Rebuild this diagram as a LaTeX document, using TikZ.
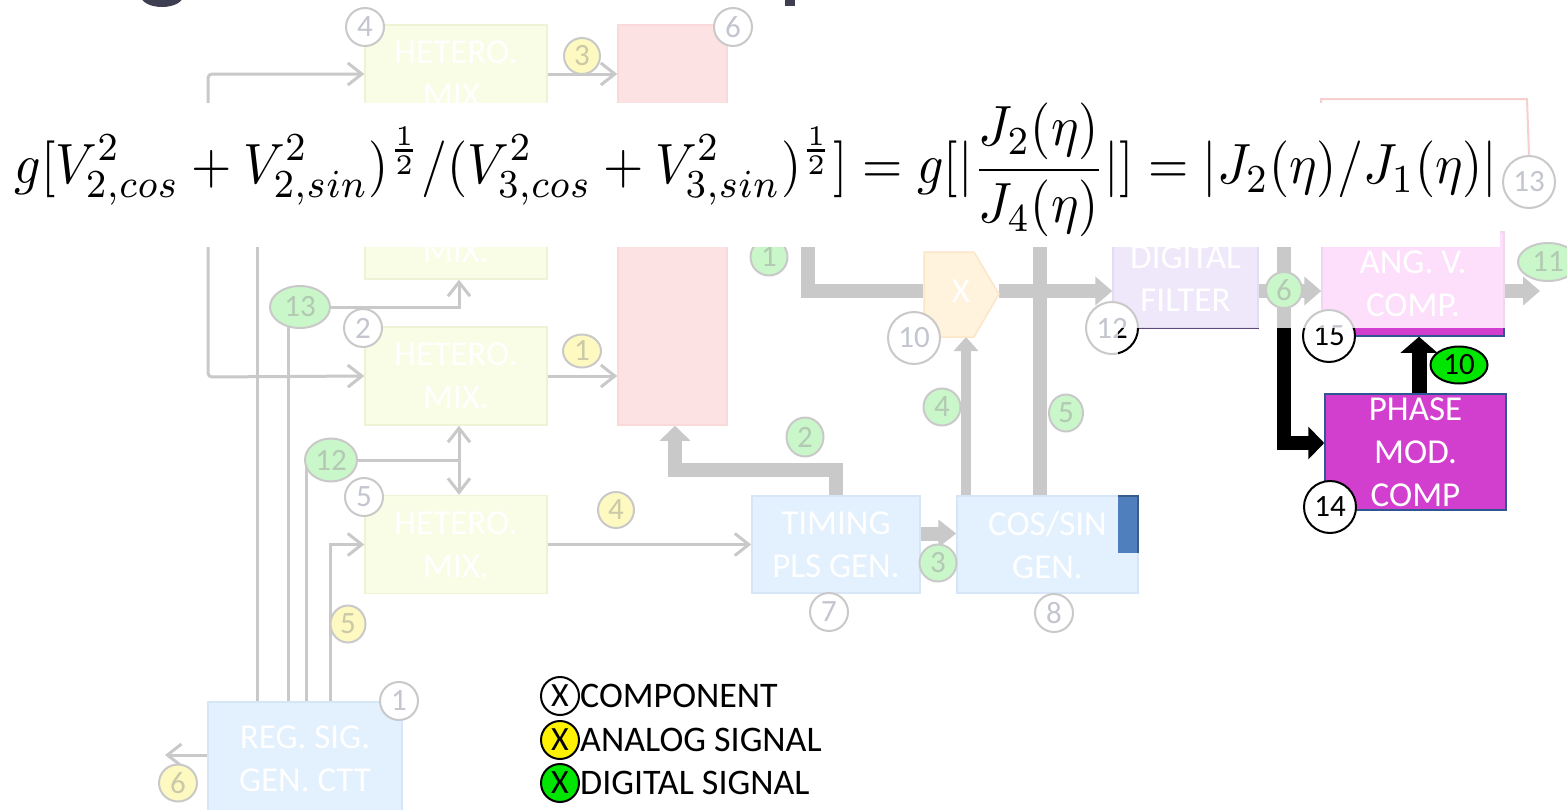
\documentclass[tikz,border=0pt]{standalone}
\usepackage{fontspec}
\setmainfont{Carlito}
\usepackage{graphicx}
\usetikzlibrary{arrows.meta,calc,shapes.geometric}
\pgfdeclarelayer{bg}
\pgfdeclarelayer{fg}
\pgfsetlayers{bg,main,fg}
\definecolor{lg}{HTML}{C9C9C9}
\definecolor{numg}{HTML}{C3C6CF}
\definecolor{hmixf}{HTML}{F9FDE6}
\definecolor{hmixb}{HTML}{EDF4D6}
\definecolor{pinkf}{HTML}{FDE2E3}
\definecolor{pinkb}{HTML}{F9D9DA}
\definecolor{bluef}{HTML}{E3F0FD}
\definecolor{blueb}{HTML}{D6E6F7}
\definecolor{filtf}{HTML}{EFE8FA}
\definecolor{filtb}{HTML}{E4DCF0}
\definecolor{angf}{HTML}{FDDEFB}
\definecolor{angb}{HTML}{F1D6F0}
\definecolor{xf}{HTML}{FFF3DE}
\definecolor{xb}{HTML}{FCE6C8}
\definecolor{gfad}{HTML}{C9F7C9}
\definecolor{gtxt}{HTML}{B3C9B3}
\definecolor{yfad}{HTML}{FDF9C0}
\definecolor{ytxt}{HTML}{CBC9A8}
\definecolor{mag}{HTML}{D23FCF}
\definecolor{dkb}{HTML}{2F5592}
\definecolor{cbar}{HTML}{4F7FBC}
\definecolor{cbarb}{HTML}{385D8A}
\definecolor{dfb}{HTML}{5E4680}
\definecolor{dfu}{HTML}{8064A2}
\definecolor{brgreen}{HTML}{00E600}
\definecolor{pline}{HTML}{F6CFCF}
\definecolor{ttl}{HTML}{3E3E52}
\begin{document}
\begin{tikzpicture}[x=1pt,y=-1pt,
  ln/.style={draw=lg,line width=3pt},
  ta/.style={ln,-{Straight Barb[length=14pt,width=22pt]}},
  tab/.style={ln,{Straight Barb[length=14pt,width=22pt]}-{Straight Barb[length=14pt,width=22pt]}},
  thk/.style={draw=lg,line width=14pt},
  tha/.style={thk,-{Triangle[length=17pt,width=28pt]}},
  box/.style={rectangle,minimum width=182pt,minimum height=98pt,inner sep=0pt,line width=1.5pt,align=center,text=white,font=\fontsize{35}{43}\selectfont},
  hmix/.style={box,draw=hmixb,fill=hmixf},
  bbox/.style={box,draw=blueb,fill=bluef},
  num/.style={circle,draw=lg,line width=2pt,fill=white,minimum size=38pt,inner sep=0pt,text=numg,font=\fontsize{31}{31}\selectfont},
  bnum/.style={num,minimum size=52pt},
  gnum/.style={ellipse,draw=lg,line width=2pt,fill=gfad,inner sep=0pt,text=gtxt,font=\fontsize{31}{31}\selectfont,minimum width=37pt,minimum height=37pt},
  ynum/.style={gnum,fill=yfad,text=ytxt},
  lgd/.style={circle,draw=black,line width=2pt,minimum size=38pt,inner sep=0pt,font=\fontsize{34}{34}\selectfont},
  lgt/.style={anchor=west,inner sep=0pt,font=\fontsize{36}{36}\selectfont},
]
\useasboundingbox (0,0) rectangle (1567,809);

% title fragments
\fill[ttl] (162,-4) ellipse (21 and 11);
\fill[ttl] (785,0) rectangle (795,6);

% ---------- faded boxes ----------
\node[hmix] (b1) at (456,74) {HETERO.\\MIX.};
\node[hmix] (bh) at (456,230) {HETERO.\\MIX.};
\node[hmix] (b2) at (456,376) {HETERO.\\MIX.};
\node[hmix] (b3) at (456,544.5) {HETERO.\\MIX.};
\node[box,draw=pinkb,fill=pinkf,minimum width=109pt,minimum height=400pt] (pk) at (672.5,225) {};
\node[bbox,minimum width=168pt,minimum height=97pt] (tm) at (836,544.5) {TIMING\\PLS GEN.};
\node[bbox,minimum width=181pt,minimum height=97pt] (cs) at (1047.5,544.5) {COS/SIN\\GEN.};
\node[bbox,minimum width=194pt,minimum height=114pt] (rg) at (305,759) {REG. SIG.\\GEN. CTT};
\node[box,draw=filtb,fill=filtf,minimum width=145pt] (fl) at (1185.5,279) {DIGITAL\\FILTER};
\node[box,draw=angb,fill=angf,minimum height=104pt] (av) at (1413,284) {ANG. V.\\COMP.};
\filldraw[fill=xf,draw=xb,line width=1.5pt] (924,252) -- (974,252) -- (999,294) -- (974,337) -- (924,337) -- cycle;
\node[inner sep=0pt,minimum width=75pt,minimum height=85pt,text=white,font=\fontsize{35}{35}\selectfont] (xh) at (961,291) {X};

% ---------- faded number labels ----------
\node[num] (n4) at (365,27) {4};
\node[num] (n6) at (733,27) {6};
\node[num] (n2) at (363,328) {2};
\node[num] (n5) at (364,497) {5};
\node[num] (n7) at (829,612) {7};
\node[num] (n8) at (1054,613) {8};
\node[num] (n1) at (399,701) {1};
\node[bnum] (n10) at (914,338) {10};
\node[bnum] (n12) at (1112,328) {12};
\node[bnum] (n15) at (1329,336) {15};
\node[bnum] (n13) at (1529,182) {13};
\node[gnum,minimum width=60pt,minimum height=42pt] (g13) at (300,307) {13};
\node[gnum,minimum width=52pt,minimum height=43pt] (g12) at (331,460) {12};
\node[gnum] (g1) at (769,257) {1};
\node[gnum,minimum height=39pt] (g2) at (805,437) {2};
\node[gnum] (g3) at (938,563) {3};
\node[gnum] (g4) at (942,407) {4};
\node[gnum,minimum width=34pt] (g5) at (1066,413) {5};
\node[gnum,minimum width=36pt,minimum height=36pt] (g6) at (1284,290) {6};
\node[gnum,minimum width=60pt,minimum height=38pt] (g11) at (1548,262) {11};
\node[ynum,minimum width=36pt,minimum height=36pt] (y3) at (582,56) {3};
\node[ynum,minimum width=38pt,minimum height=33pt] (y1) at (582,351) {1};
\node[ynum,minimum width=36pt,minimum height=36pt] (y4) at (616,510) {4};
\node[ynum,minimum width=35pt] (y5) at (348,624) {5};
\node[ynum,minimum width=38pt] (y6) at (178,783) {6};

% pink outline (top right)
\coordinate (p1) at (1321,140);
\coordinate (p2) at (1321,99);
\coordinate (p3) at (1527,99);
\draw[pline,line width=2pt] (p1) -- (p2) -- (p3) -- (n13.north);

% ---------- faded connectors ----------
\begin{pgfonlayer}{bg}
\fill[white] (0,0) rectangle (1567,809);
\coordinate (j1) at (208,377);
\draw[tab,rounded corners=4pt] (b1.west) -| (j1) -- (b2.west);
\draw[ta] (b1.east) -- (b1.east -| pk.west);
\draw[ta] (b2.east) -- (b2.east -| pk.west);
\draw[ta] (b3.east) -- (b3.east -| tm.west);
\coordinate (f257) at (257,702);
\coordinate (f288) at (288,702);
\coordinate (f306) at (306,702);
\coordinate (f330) at (330,702);
\draw[ta] (f257) |- (bh.west);
\coordinate (k13) at (459,307);
\draw[ta] (f288) |- (k13) -- (k13 |- bh.south);
\coordinate (k12) at (459,460);
\draw[ln] (f306) |- (k12);
\draw[tab] (k12 |- b2.south) -- (k12 |- b3.north);
\draw[ta] (f330) |- (b3.west);
\coordinate (o6) at (165,755);
\draw[ta] (rg.west |- o6) -- (o6);
\coordinate (k2) at (675,470);
\draw[tha,-{Triangle[length=15pt,width=30pt]}] (tm.north) |- (k2) -- (k2 |- pk.south);
\draw[tha,-{Triangle[length=18pt,width=27pt]}] ($(tm.east)+(0,-11)$) -- ($(cs.west)+(0,-11)$);
\coordinate (k4) at (966,337);
\draw[draw=lg,line width=10pt,-{Triangle[length=14pt,width=24pt]}] (cs.north -| k4) -- (k4);
\coordinate (t1) at (808,200);
\draw[thk] (t1) |- (xh.west);
\draw[tha] (xh.east) -- (xh.east -| fl.west);
\coordinate (t5) at (1040,200);
\draw[thk] (cs.north -| t5) -- (t5);
\draw[tha] (fl.east |- xh.east) -- (av.west |- xh.east);
\coordinate (t6) at (1284,200);
\coordinate (pin) at (1325,443);
\draw[tha,-{Triangle[length=16pt,width=32pt]}] (t6) |- (pin);
\coordinate (o11) at (1540,291);
\draw[tha] (av.east |- o11) -- (o11);
\end{pgfonlayer}

% ---------- legend ----------
\node[lgd,fill=white] (l1) at (560,696) {X};
\node[lgd,fill=yellow] (l2) at (560,740) {X};
\node[lgd,fill=brgreen] (l3) at (560,783) {X};
\node[lgt] at (l1.east) {COMPONENT};
\node[lgt] at (l2.east) {ANALOG SIGNAL};
\node[lgt] at (l3.east) {DIGITAL SIGNAL};

% ---------- unfaded region ----------
\begin{pgfonlayer}{fg}
\begin{scope}
\clip (1118,328) rectangle (1567,552);
\fill[white] (1118,328) rectangle (1567,552);
\node[box,minimum width=145pt,draw=dfb,fill=dfu] at (fl.center) {};
\node[box,minimum height=104pt,draw=dkb,fill=mag] at (av.center) {};
\node[box,minimum width=181pt,minimum height=97pt,draw=cbarb,fill=cbar] at (cs.center) {};
\node[box,minimum width=181pt,minimum height=116pt,draw=dkb,fill=mag] (ph) at (1415.5,452) {PHASE\\MOD.\\COMP};
\draw[black,line width=14pt,-{Triangle[length=16pt,width=32pt]}] (t6) |- (ph.west |- pin);
\coordinate (k10) at (1419,394);
\draw[black,line width=15pt,-{Triangle[length=16pt,width=36pt]}] (ph.north -| k10) -- (k10 |- av.south);
\node[bnum,draw=black,text=black] at (n12) {12};
\node[bnum,draw=black,text=black] at (n15) {15};
\node[bnum,draw=black,text=black] (n14) at (1330,507) {14};
\node[gnum,fill=brgreen,draw=black,text=black,minimum width=57pt] (g10) at (1459,365) {10};
\end{scope}

% ---------- formula band ----------
\fill[white] (0,103) rectangle (1500,247);
\node[inner sep=0pt] (eq) at (756,170) {\resizebox*{1482pt}{134pt}{$\displaystyle g[V_{2,cos}^{2}+V_{2,sin}^{2})^{\frac{1}{2}}/(V_{3,cos}^{2}+V_{3,sin}^{2})^{\frac{1}{2}}]=g[|\frac{J_2(\eta)}{J_4(\eta)}|]=|J_2(\eta)/J_1(\eta)|$}};
\end{pgfonlayer}
\end{tikzpicture}
\end{document}
